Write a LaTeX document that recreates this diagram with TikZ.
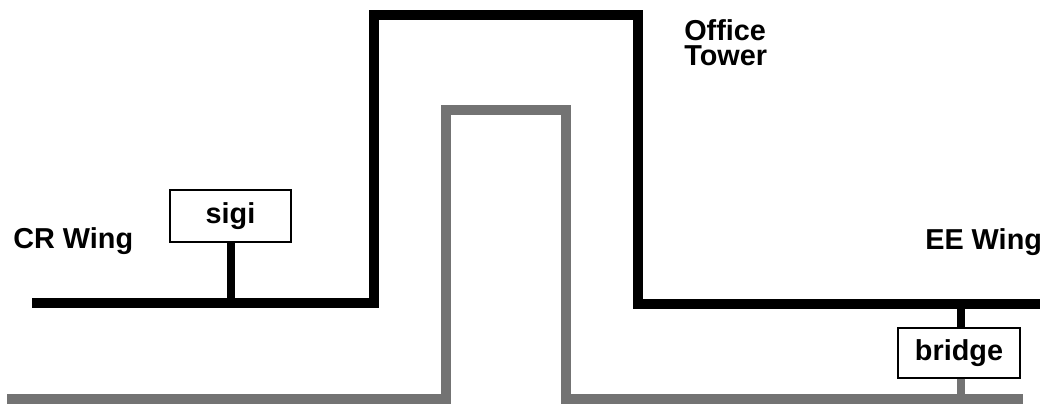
\documentclass[tikz,border=0pt]{standalone}
\usepackage{fontspec}
\setmainfont{Liberation Sans}
\usepackage{tikz}
\tikzset{
  blackline/.style={line width=7.2pt,black,miter limit=10},
  grayline/.style={line width=6.6pt,black!55,miter limit=10},
  hostbox/.style={draw,line width=1.4pt,minimum width=86pt,minimum height=37pt,inner sep=0pt,font=\fontsize{20.5pt}{24pt}\selectfont\bfseries},
  wingtext/.style={font=\fontsize{20.5pt}{24pt}\selectfont\bfseries,inner sep=0pt},
}
\begin{document}
\begin{tikzpicture}[x=0.025cm,y=-0.025cm]
	\useasboundingbox (0,0) rectangle (1040,404);
	% the two cables
	\draw[grayline] (7,399)--(446,399)--(446,110)--(566,110)--(566,399)--(1023,399); % lower cable
	\draw[blackline] (32,303)--(374,303)--(374,15)--(638,15)--(638,304)--(1040,304); % upper cable
	\coordinate (sigitap) at (231,303);
	\coordinate (bridgetop) at (961,304);
	\coordinate (bridgebot) at (961,399);
	\node[hostbox,fill=white] (sigi) at (230.5,216) {sigi};
	\node[hostbox,fill=white,minimum width=87pt,minimum height=35pt] (bridge) at (959,353) {bridge};
	\draw[line width=5pt] (sigi.south -| sigitap)--(sigitap);
	\draw[line width=5.5pt] (bridgetop)--(bridge.north -| bridgetop);
	\draw[line width=5pt,black!55] (bridge.south -| bridgebot)--(bridgebot);
	% labels
	\node[wingtext,anchor=base west] (crwing) at (13,248) {CR Wing};
	\node[wingtext,anchor=base west] (eewing) at (925,249) {EE Wing};
	\node[wingtext,anchor=base west] (office) at (684,40) {Office};
	\node[wingtext,anchor=base west] (tower) at (684,65) {Tower};
\end{tikzpicture}
\end{document}
